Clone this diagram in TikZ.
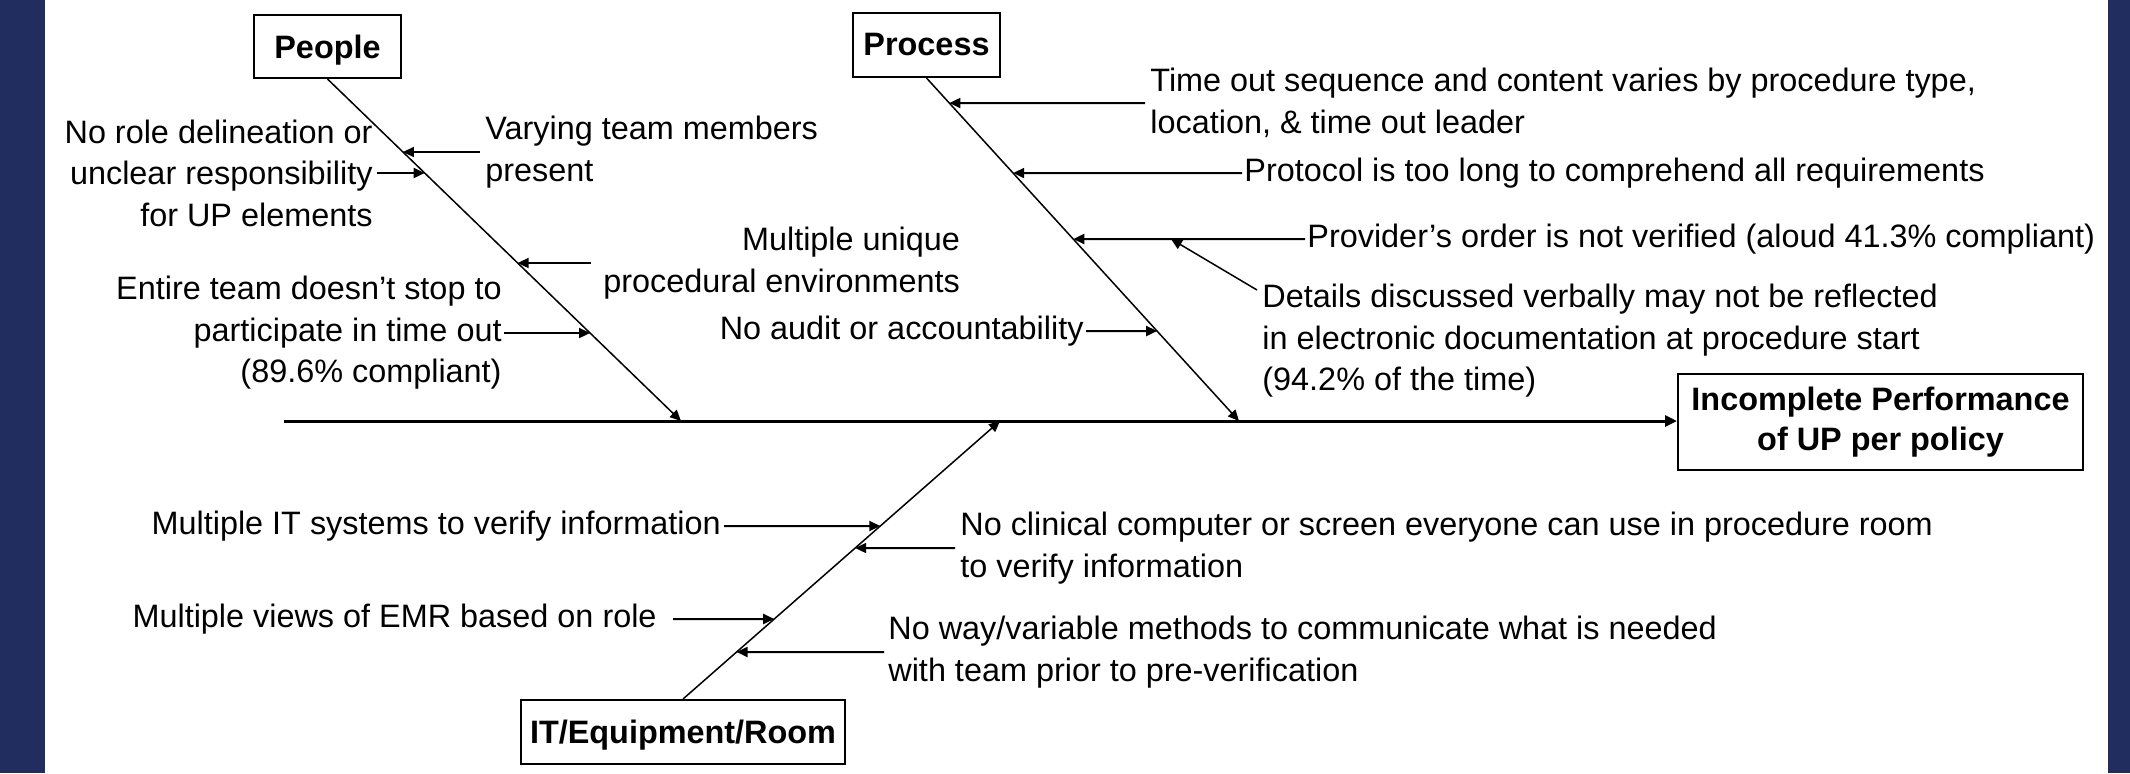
\documentclass[tikz,border=0pt]{standalone}
\usepackage{fontspec}
\setmainfont{Liberation Sans}
\usetikzlibrary{arrows.meta,calc}
\definecolor{navyband}{RGB}{34,45,95}
\newcommand{\causearrow}[3]{%
  \path (#1) coordinate (castart) ++(10pt,0) coordinate (cahelp);
  \draw[arr] (castart) -- (intersection of castart--cahelp and #2--#3);
}
\begin{document}
\begin{tikzpicture}[x=0.5pt,y=-0.5pt,
  txt/.style={inner sep=0pt, font=\fontsize{16.2pt}{20.75pt}\selectfont},
  box/.style={draw, line width=1pt, inner sep=0pt, font=\fontsize{16.2pt}{20pt}\selectfont\bfseries},
  arr/.style={line width=1pt, -{Triangle[length=5.5pt,width=5pt]}},
  bone/.style={line width=0.75pt, -{Triangle[length=5.5pt,width=5pt]}},
  spinestyle/.style={line width=1.5pt, -{Triangle[length=6pt,width=5.5pt]}}]
\useasboundingbox (0,0) rectangle (2130,773);
\fill[white] (0,0) rectangle (2130,773);
\fill[navyband] (0,0) rectangle (45,773);
\fill[navyband] (2108,0) rectangle (2130,773);

% category boxes and effect
\node[box, minimum width=73.5pt, minimum height=31.5pt, text depth=0pt] (people) at (327.5,46.5) {People};
\node[box, minimum width=73.5pt, minimum height=32pt] (process) at (926.5,45) {Process};
\node[box, minimum width=162pt, minimum height=32pt, text depth=0pt] (itroom) at (683,732) {IT/Equipment/Room};
\node[box, minimum width=202.5pt, minimum height=48pt, align=center] (effect) at (1880.5,422) {Incomplete Performance\\of UP per policy};

% spine and bones
\coordinate (spineL) at (284,421);
\coordinate (ptip) at (681,421);
\coordinate (prtip) at (1239,421);
\coordinate (ittip) at (1000,421);
\draw[spinestyle] (spineL) -- (spineL -| effect.west);
\coordinate (pa) at (people.south);
\coordinate (pra) at (process.south);
\coordinate (ia) at (itroom.north);
\draw[bone] (pa) -- (ptip);
\draw[bone] (pra) -- (prtip);
\draw[bone] (ia) -- (ittip);

% People causes
\node[txt, anchor=east, align=right, inner xsep=2pt] (noRole) at (377,173) {No role delineation or\\unclear responsibility\\for UP elements};
\node[txt, anchor=west, align=left, inner xsep=2.5pt] (varying) at (480,152) {Varying team members\\present};
\node[txt, anchor=west, align=right, inner xsep=6pt] (multUnique) at (591,263) {Multiple unique\\procedural environments};
\node[txt, anchor=east, align=right, inner xsep=1pt] (entire) at (504,333) {Entire team doesn’t stop to\\participate in time out\\(89.6\% compliant)};
\causearrow{varying.west}{pa}{ptip}
\causearrow{noRole.east}{pa}{ptip}
\causearrow{multUnique.west}{pa}{ptip}
\causearrow{entire.east}{pa}{ptip}

% Process causes
\node[txt, anchor=west, align=left, inner xsep=2.5pt] (timeout) at (1145,103) {Time out sequence and content varies by procedure type,\\location, \& time out leader};
\node[txt, anchor=west, inner xsep=1pt] (protocol) at (1242,173) {Protocol is too long to comprehend all requirements};
\node[txt, anchor=west, inner xsep=1pt] (provider) at (1305,239) {Provider’s order is not verified (aloud 41.3\% compliant)};
\node[txt, anchor=north west, align=left] (details) at (1262,284) {Details discussed verbally may not be reflected\\in electronic documentation at procedure start\\(94.2\% of the time)};
\node[txt, anchor=east, inner xsep=1pt] (noAudit) at (1086,331) {No audit or accountability};
\causearrow{timeout.west}{pra}{prtip}
\causearrow{protocol.west}{pra}{prtip}
\causearrow{provider.west}{pra}{prtip}
\causearrow{noAudit.east}{pra}{prtip}
\coordinate (dstart) at ([xshift=-2.5pt,yshift=-3pt]details.north west);
\coordinate (dx) at (1171,0);
\coordinate (dtip) at (dx |- provider.west);
\draw[bone] (dstart) -- (dtip);

% IT causes
\node[txt, anchor=east, inner xsep=1.5pt] (multIT) at (724,526) {Multiple IT systems to verify information};
\node[txt, anchor=west, align=left, inner xsep=2.5pt] (noClin) at (955,548) {No clinical computer or screen everyone can use in procedure room\\to verify information};
\node[txt, anchor=east, inner xsep=8pt] (multViews) at (673,619) {Multiple views of EMR based on role};
\node[txt, anchor=west, align=left, inner xsep=2pt] (noWay) at (884,652) {No way/variable methods to communicate what is needed\\with team prior to pre-verification};
\causearrow{multIT.east}{ia}{ittip}
\causearrow{noClin.west}{ia}{ittip}
\causearrow{multViews.east}{ia}{ittip}
\causearrow{noWay.west}{ia}{ittip}
\end{tikzpicture}
\end{document}
